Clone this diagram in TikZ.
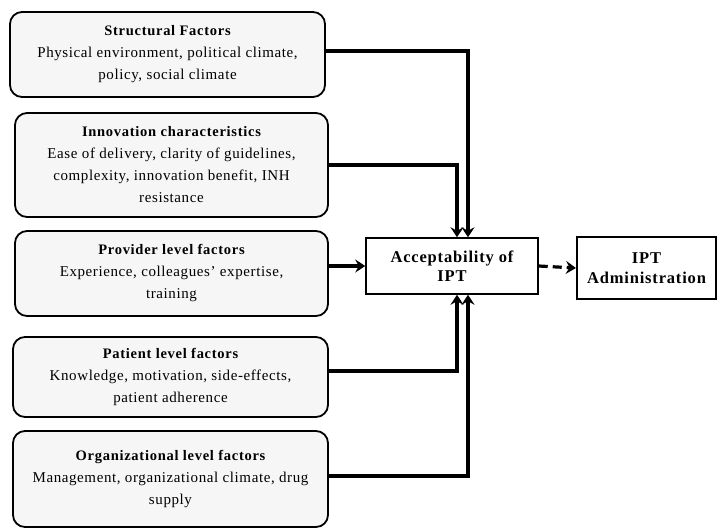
\documentclass[tikz,border=0pt]{standalone}
\usepackage{fontspec}
\setmainfont{Liberation Serif}
\newfontfamily\bodyfont[LetterSpace=4]{Liberation Serif}
\newfontfamily\headfont[LetterSpace=5]{Liberation Serif}
\usetikzlibrary{arrows.meta,positioning,calc}

\tikzset{
  factor/.style={draw, line width=1.8pt, rounded corners=12pt, fill=gray!7,
    align=center, inner sep=2pt, font=\bodyfont\fontsize{15}{22}\selectfont},
  target/.style={draw, line width=1.5pt, fill=white, align=center,
    font=\headfont\bfseries\fontsize{16.5}{19.5}\selectfont},
  link/.style={line width=3.2pt, -{Stealth[length=10pt,width=13pt,inset=3.5pt]}}
}
\newcommand{\ftitle}[1]{{\headfont\bfseries\fontsize{14.5}{22}\selectfont #1}}

\begin{document}
\begin{tikzpicture}[x=1pt,y=-1pt]
\useasboundingbox (0,0) rectangle (717,531);

% factor boxes
\node[factor, minimum width=315pt, minimum height=85pt] (s) at (167.5,54.5)
  {\ftitle{Structural Factors}\\Physical environment, political climate,\\policy, social climate};
\node[factor, minimum width=313pt, minimum height=104pt] (i) at (171.5,165)
  {\ftitle{Innovation characteristics}\\Ease of delivery, clarity of guidelines,\\complexity, innovation benefit, INH\\resistance};
\node[factor, minimum width=313pt, minimum height=85pt] (p) at (171.5,273.5)
  {\ftitle{Provider level factors}\\Experience, colleagues’ expertise,\\training};
\node[factor, minimum width=315pt, minimum height=80pt] (pt) at (170.5,377)
  {\ftitle{Patient level factors}\\Knowledge, motivation, side-effects,\\patient adherence};
\node[factor, minimum width=315pt, minimum height=96pt] (o) at (170.5,479)
  {\ftitle{Organizational level factors}\\Management, organizational climate, drug\\supply};

% outcome boxes
\node[target, minimum width=172pt, minimum height=56pt] (acc) at (452,266)
  {Acceptability of\\IPT};
\node[target, line width=2.2pt, minimum width=139pt, minimum height=62pt] (adm) at (646.5,268)
  {IPT\\Administration};

% connectors into the acceptability box
\draw[link] ([yshift=3.5pt]s.east) -| ([xshift=16pt]acc.north);
\draw[link] (i.east) -| ([xshift=5pt]acc.north);
\draw[link] (p.east |- acc.west) -- (acc.west);
\draw[link] ([yshift=6pt]pt.east) -| ([xshift=5pt]acc.south);
\draw[link] ([yshift=3pt]o.east) -| ([xshift=16pt]acc.south);

% dashed link to administration
\draw[link, dash pattern=on 9pt off 5pt] (acc.east) -- (adm.west);
\end{tikzpicture}
\end{document}
